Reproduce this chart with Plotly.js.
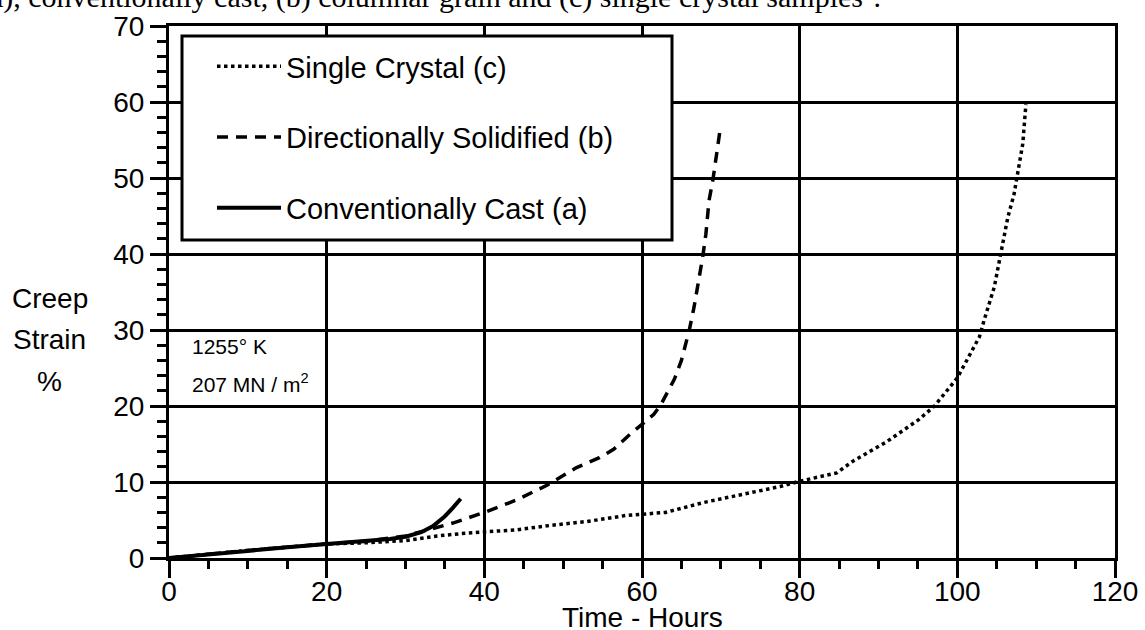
<!DOCTYPE html>
<html>
<head>
<meta charset="utf-8">
<script src="https://cdn.plot.ly/plotly-3.0.1.min.js"></script>
<style>
html,body{margin:0;padding:0;background:#fff;}
#chart{width:1145px;height:630px;}
</style>
</head>
<body>
<div id="chart"></div>
<script>
// ---- data ----
const seriesNames = ["Single Crystal (c)", "Directionally Solidified (b)", "Conventionally Cast (a)"];

const scHours  = [0, 10, 20, 25, 30, 34, 38, 40, 44, 48.5, 53, 58, 60, 63, 67.8, 72.6, 77.5, 80, 84.7, 86.7, 90.9, 95.1, 97.1, 100, 101.3, 102.8, 103.4, 104.7, 105.5, 106.4, 107.2, 107.6, 108.3, 108.7];
const scStrain = [0, 1, 1.85, 2.0, 2.3, 2.9, 3.3, 3.4, 3.7, 4.3, 4.8, 5.6, 5.8, 6.0, 7.3, 8.3, 9.4, 10.1, 11.2, 12.7, 15.2, 18.2, 20.0, 23.7, 26.1, 29.1, 31.3, 35.7, 40.0, 44.8, 47.9, 50.1, 54.5, 59.7];

const dsHours  = [0, 10, 20, 25, 30, 33, 36, 40, 44, 48, 51.7, 54.6, 56.4, 58.5, 60, 61.5, 62.4, 63.2, 64.1, 65, 65.6, 66.0, 66.6, 67.2, 67.7, 68.1, 68.5, 69.0, 69.4, 69.9];
const dsStrain = [0, 1, 1.85, 2.2, 2.9, 3.8, 4.6, 6.0, 7.6, 9.6, 11.9, 13.2, 14.3, 16.3, 17.6, 18.9, 20.2, 21.8, 23.5, 26, 28.3, 30, 33, 36.5, 39.6, 42.6, 47, 49.8, 53, 56.3];

const ccHours  = [0, 5, 10, 15, 20, 25, 28, 30, 32, 33.5, 35, 36, 37];
const ccStrain = [0, 0.5, 1.0, 1.4, 1.85, 2.2, 2.5, 2.8, 3.4, 4.2, 5.5, 6.6, 7.8];

const xTickVals = [0, 20, 40, 60, 80, 100, 120];
const yTickVals = [0, 10, 20, 30, 40, 50, 60, 70];

// ---- layout helpers (pixel -> paper) ----
const W = 1145, H = 630;
const M = {l: 169, r: 30, t: 26, b: 72};
const PW = W - M.l - M.r, PH = H - M.t - M.b;
const px = v => (v - M.l) / PW;
const py = v => (H - M.b - v) / PH;

const FONT = "Liberation Sans, Arial, Helvetica, sans-serif";

const traces = [
  {x: scHours, y: scStrain, name: seriesNames[0], legendgroup: "c", type: "scatter", mode: "lines",
   line: {color: "#000", width: 3.5, dash: "3.5px,3.5px"}},
  {x: dsHours, y: dsStrain, name: seriesNames[1], legendgroup: "b", type: "scatter", mode: "lines",
   line: {color: "#000", width: 3.5, dash: "11px,8px"}},
  {x: ccHours, y: ccStrain, name: seriesNames[2], legendgroup: "a", type: "scatter", mode: "lines",
   line: {color: "#000", width: 4}}
];

const layout = {
  width: W, height: H,
  margin: M,
  paper_bgcolor: "#fff", plot_bgcolor: "#fff",
  font: {family: FONT, color: "#000", size: 28},
  showlegend: true,
  legend: {
    x: px(212), y: py(41), xanchor: "left", yanchor: "top",
    bgcolor: "rgba(0,0,0,0)", borderwidth: 0,
    font: {family: FONT, size: 29, color: "#000"},
    traceorder: "grouped", tracegroupgap: 30, itemwidth: 64
  },
  xaxis: {
    range: [0, 120], tickvals: xTickVals, ticktext: xTickVals.map(String),
    ticks: "outside", ticklen: 17, tickwidth: 3, tickcolor: "#000",
    ticklabelstandoff: -11,
    minor: {dtick: 5, ticks: "outside", ticklen: 8, tickwidth: 3, tickcolor: "#000", showgrid: false},
    showgrid: true, gridcolor: "#000", gridwidth: 3,
    showline: true, linecolor: "#000", linewidth: 3, mirror: true,
    zeroline: false, tickfont: {family: FONT, size: 28}, fixedrange: true
  },
  yaxis: {
    range: [0, 70], tickvals: yTickVals, ticktext: yTickVals.map(String),
    ticks: "outside", ticklen: 16, tickwidth: 3, tickcolor: "#000",
    minor: {dtick: 2, ticks: "outside", ticklen: 9, tickwidth: 3, tickcolor: "#000", showgrid: false},
    showgrid: true, gridcolor: "#000", gridwidth: 3,
    showline: true, linecolor: "#000", linewidth: 3, mirror: true,
    zeroline: false, tickfont: {family: FONT, size: 28}, fixedrange: true
  },
  shapes: [
    {type: "rect", xref: "paper", yref: "paper", layer: "above",
     x0: px(182), x1: px(672), y0: py(240), y1: py(36),
     fillcolor: "#fff", line: {color: "#000", width: 3}}
  ],
  annotations: [
    {text: "Time - Hours", xref: "paper", yref: "paper", x: 0.5, y: py(617),
     xanchor: "center", yanchor: "middle", showarrow: false, font: {family: FONT, size: 28}},
    {text: "Creep", xref: "paper", yref: "paper", x: px(50), y: py(298),
     xanchor: "center", yanchor: "middle", showarrow: false, font: {family: FONT, size: 28}},
    {text: "Strain", xref: "paper", yref: "paper", x: px(50), y: py(339),
     xanchor: "center", yanchor: "middle", showarrow: false, font: {family: FONT, size: 28}},
    {text: "%", xref: "paper", yref: "paper", x: px(50), y: py(381),
     xanchor: "center", yanchor: "middle", showarrow: false, font: {family: FONT, size: 28}},
    {text: "1255° K", xref: "paper", yref: "paper", x: px(190), y: py(347),
     xanchor: "left", yanchor: "middle", showarrow: false, font: {family: FONT, size: 21}},
    {text: "207 MN / m<sup>2</sup>", xref: "paper", yref: "paper", x: px(190), y: py(383),
     xanchor: "left", yanchor: "middle", showarrow: false, font: {family: FONT, size: 21}},
    {text: "(a), conventionally cast, (b) columnar grain and (c) single crystal samples<sup>4</sup>.",
     xref: "paper", yref: "paper", x: px(-22), y: py(-6), xanchor: "left", yanchor: "middle",
     showarrow: false, font: {family: "Liberation Serif, Times New Roman, serif", size: 30}}
  ]
};

Plotly.newPlot("chart", traces, layout, {displayModeBar: false, staticPlot: true});
</script>
</body>
</html>
